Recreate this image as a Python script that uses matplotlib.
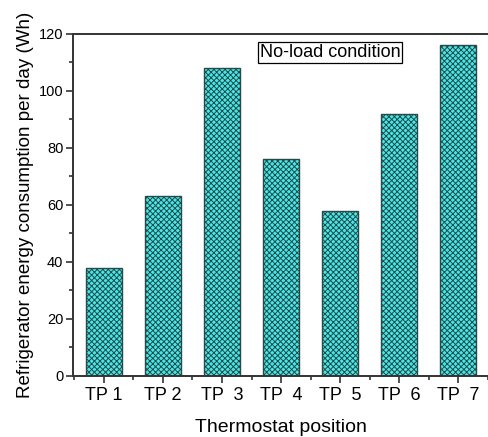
import matplotlib.pyplot as plt
from matplotlib.ticker import MultipleLocator

plt.rcParams['font.family'] = ['Liberation Sans', 'DejaVu Sans']
plt.rcParams['hatch.linewidth'] = 0.7
plt.rcParams['hatch.color'] = '#1a2a2a'

positions = ['TP 1', 'TP 2', 'TP  3', 'TP  4', 'TP  5', 'TP  6', 'TP  7']
energy_wh = [38, 63, 108, 76, 58, 92, 116]

fig = plt.figure(figsize=(4.88, 4.37), dpi=100)
ax = fig.add_axes([0.1496, 0.1396, 0.8504, 0.7826])

x = range(len(positions))
ax.bar(x, energy_wh, width=0.61, color='#42eaea', edgecolor='#2a4848',
       hatch='xxxxxx', linewidth=1.0)

ax.set_xlim(-0.52, 6.48)
ax.set_ylim(0, 120)
ax.set_xticks(list(x))
ax.set_xticklabels(positions)
ax.set_xticks([i + 0.5 for i in range(-1, 7)], minor=True)
ax.yaxis.set_major_locator(MultipleLocator(20))
ax.yaxis.set_minor_locator(MultipleLocator(10))
ax.tick_params(axis='both', which='major', direction='out', length=5, width=1.2,
               color='#333333', labelsize=10.5)
ax.tick_params(axis='x', which='major', labelsize=13, pad=3)
ax.tick_params(axis='y', which='major', pad=2)
ax.tick_params(axis='both', which='minor', direction='out', length=3, width=1.2,
               color='#333333')

for side in ['left', 'top', 'bottom']:
    ax.spines[side].set_linewidth(1.4)
    ax.spines[side].set_color('#333333')
ax.spines['right'].set_visible(False)

ax.set_xlabel('Thermostat position', fontsize=14, labelpad=11)
ax.set_ylabel('Refrigerator energy consumption per day (Wh)', fontsize=13.5, labelpad=3)

ax.text(0.45, 0.946, 'No-load condition', transform=ax.transAxes, fontsize=13,
        ha='left', va='center',
        bbox=dict(boxstyle='square,pad=0.1', facecolor='white', edgecolor='black', linewidth=0.9))

fig.savefig('out.png', dpi=100)
